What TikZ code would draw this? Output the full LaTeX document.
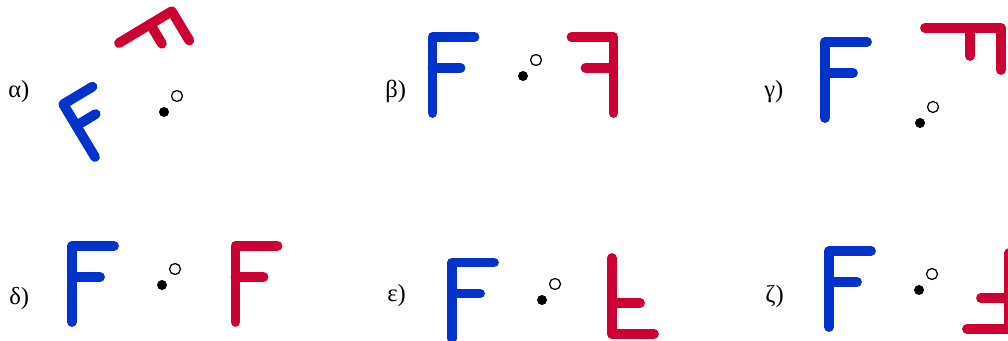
\documentclass[tikz,border=0pt]{standalone}
\usepackage{fontspec}
\setmainfont{Liberation Serif}
\usepackage{xcolor}
\usepackage{tikz}
\usetikzlibrary{positioning}
\definecolor{fblue}{HTML}{0033CC}
\definecolor{fred}{HTML}{CC0033}

\begin{document}
\begin{tikzpicture}[
    x=0.02cm, y=-0.02cm,
    letterF/.pic={\draw (0,0) -- (0,-76) -- (42,-76); \draw (0,-45) -- (28,-45);},
    blueF/.style={color=fblue, line width=5.6pt, line cap=round, line join=round},
    redF/.style={color=fred, line width=5.6pt, line cap=round, line join=round},
    pivot/.style={circle, fill=black, inner sep=0pt, minimum size=0.2cm},
    hollow/.style={circle, draw=black, line width=0.7pt, fill=white, inner sep=0pt, minimum size=0.22cm},
    tag/.style={anchor=base west, inner sep=0pt, font=\fontsize{14}{16}\selectfont},
]
    \clip (0,0) rectangle (1008,341);

    \node[tag] (la) at (8,98) {α)};
    \node[pivot] (oa) at (164,112) {};
    \node[hollow] (ca) at ([shift={(13,-16)}]oa) {};
    \pic[blueF, rotate=31, scale=0.81] at (95,157) {letterF};
    \pic[redF, rotate=-59, scale=0.81] at (119,43) {letterF};

    \node[tag] (lb) at (385,98) {β)};
    \node[pivot] (ob) at (523,76) {};
    \node[hollow] (cb) at ([shift={(13,-16)}]ob) {};
    \pic[blueF] at (432.5,113) {letterF};
    \pic[redF, xscale=-1] at (613.5,113) {letterF};

    \node[tag] (lc) at (764,98) {γ)};
    \node[pivot] (oc) at (920,123) {};
    \node[hollow] (cc) at ([shift={(13,-16)}]oc) {};
    \pic[blueF] at (825,118) {letterF};
    \pic[redF, rotate=-90] at (925,28) {letterF};

    \node[tag] (ld) at (9,304) {δ)};
    \node[pivot] (od) at (162,285) {};
    \node[hollow] (cd) at ([shift={(13,-16)}]od) {};
    \pic[blueF] at (72,322) {letterF};
    \pic[redF] at (235.5,322) {letterF};

    \node[tag] (le) at (387,301) {ε)};
    \node[pivot] (oe) at (542,300) {};
    \node[hollow] (ce) at ([shift={(13,-16)}]oe) {};
    \pic[blueF] at (452,338.5) {letterF};
    \pic[redF, yscale=-1] at (612,258) {letterF};

    \node[tag] (lf) at (765,302) {ζ)};
    \node[pivot] (of) at (919,290) {};
    \node[hollow] (cf) at ([shift={(13,-16)}]of) {};
    \pic[blueF] at (829,327) {letterF};
    \pic[redF, rotate=180] at (1009,253) {letterF};
\end{tikzpicture}
\end{document}
